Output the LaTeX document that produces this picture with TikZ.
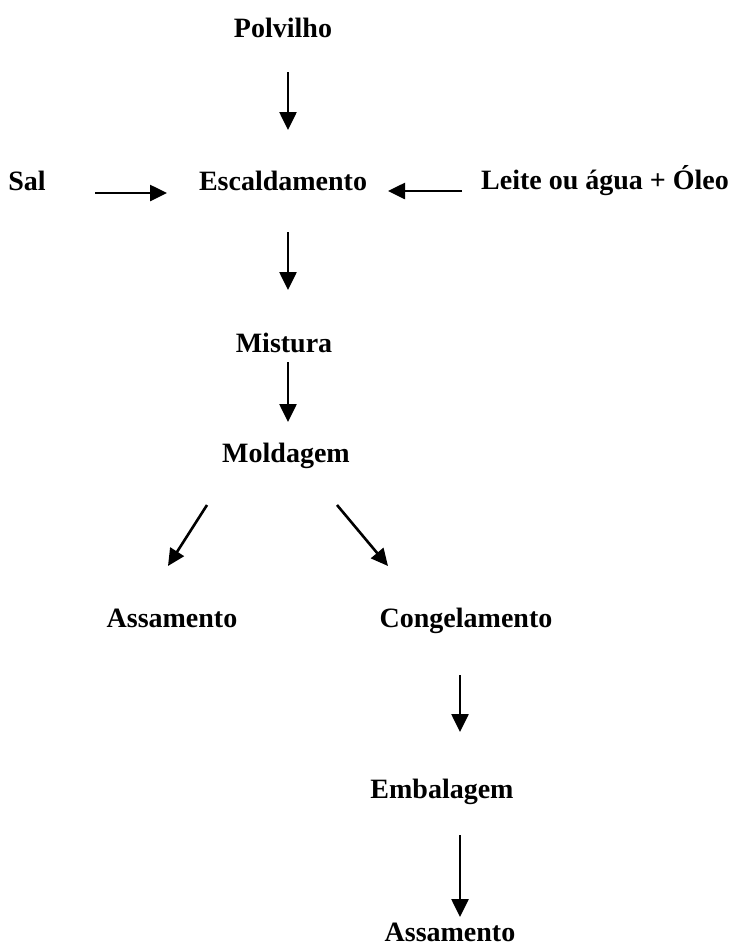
\documentclass[tikz,border=0pt]{standalone}
\usepackage{fontspec}
\setmainfont{Liberation Serif}
\usetikzlibrary{arrows.meta}
\begin{document}
\begin{tikzpicture}[x=1pt,y=-1pt,
  lbl/.style={anchor=base,inner sep=0pt,font=\fontsize{28}{33}\selectfont\bfseries},
  flow/.style={line width=2.6pt,-{Triangle[width=17pt,length=18pt]}},
  side/.style={line width=2.6pt,-{Triangle[width=16pt,length=17pt]}}]
\useasboundingbox[fill=white] (0,0) rectangle (733,946);
% process steps
\node[lbl] (polv) at (283,37) {Polvilho};
\node[lbl] (sal)  at (27,190) {Sal};
\node[lbl] (esc)  at (283,190) {Escaldamento};
\node[lbl] (leite) at (605,189) {Leite ou água + Óleo};
\node[lbl] (mist) at (284,352) {Mistura};
\node[lbl] (mold) at (286,462) {Moldagem};
\node[lbl] (assa) at (172,627) {Assamento};
\node[lbl] (cong) at (466,627) {Congelamento};
\node[lbl] (emb)  at (442,798) {Embalagem};
\node[lbl] (assb) at (450,941) {Assamento};
% arrow end points
\coordinate (p1) at (288,72);   \coordinate (q1) at (288,130);
\coordinate (p2) at (95,193);   \coordinate (q2) at (167,193);
\coordinate (p3) at (462,191);  \coordinate (q3) at (388,191);
\coordinate (p4) at (288,232);  \coordinate (q4) at (288,290);
\coordinate (p5) at (288,362);  \coordinate (q5) at (288,422);
\coordinate (p6) at (207,505);  \coordinate (q6) at (168,566);
\coordinate (p7) at (337,505);  \coordinate (q7) at (388,566);
\coordinate (p8) at (460,675);  \coordinate (q8) at (460,732);
\coordinate (p9) at (460,835);  \coordinate (q9) at (460,917);
% connectors
\draw[flow] (p1) -- (q1);
\draw[side] (p2) -- (q2);
\draw[side] (p3) -- (q3);
\draw[flow] (p4) -- (q4);
\draw[flow] (p5) -- (q5);
\draw[side] (p6) -- (q6);
\draw[side] (p7) -- (q7);
\draw[flow] (p8) -- (q8);
\draw[flow] (p9) -- (q9);
\end{tikzpicture}
\end{document}
